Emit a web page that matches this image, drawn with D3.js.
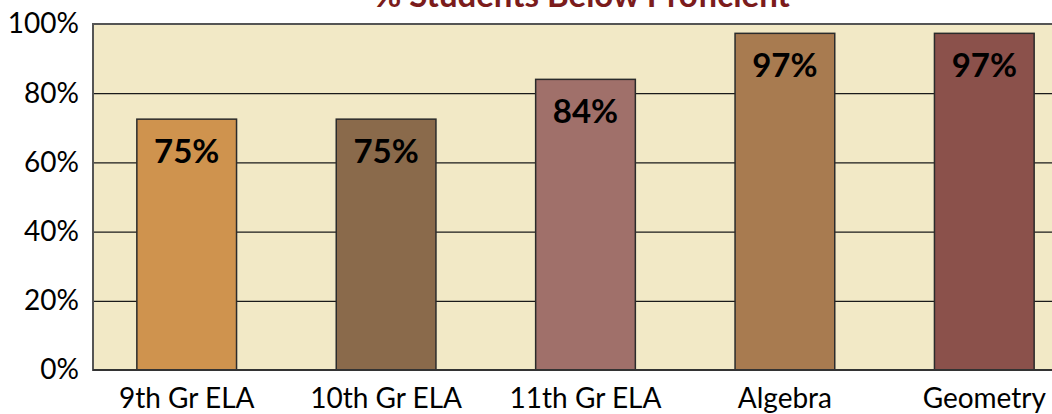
<!DOCTYPE html>
<html>
<head>
<meta charset="utf-8">
<script src="https://cdnjs.cloudflare.com/ajax/libs/d3/7.8.5/d3.min.js"></script>
<style>
  body { margin: 0; background: #fff; }
  svg { display: block; }
</style>
</head>
<body>
<div id="chart"></div>
<script>
const categories = ["9th Gr ELA", "10th Gr ELA", "11th Gr ELA", "Algebra", "Geometry"];
const values = [72.5, 72.5, 84, 97.3, 97.3];
const dataLabels = ["75%", "75%", "84%", "97%", "97%"];
const barColors = ["#CF934E", "#8A6A4B", "#A0706A", "#A87B50", "#8B514B"];
const yTicks = [0, 20, 40, 60, 80, 100];
const chartTitle = "% Students Below Proficient";

const W = 1052, H = 414;
const PLOT = { LEFT: 93, TOP: 24, BOTTOM: 370, RIGHT: 1093 };
const FONT = "Lato, 'Open Sans', sans-serif";

const svg = d3.select("#chart").append("svg")
    .attr("width", W)
    .attr("height", H);

const x = d3.scaleBand()
    .domain(categories)
    .range([87, 1084])
    .paddingInner(0.5)
    .paddingOuter(0.25);

const y = d3.scaleLinear()
    .domain([0, 100])
    .range([PLOT.BOTTOM, PLOT.TOP]);

// plot background
svg.append("rect")
    .attr("x", PLOT.LEFT)
    .attr("y", PLOT.TOP)
    .attr("width", PLOT.RIGHT - PLOT.LEFT)
    .attr("height", PLOT.BOTTOM - PLOT.TOP)
    .attr("fill", "#F2E9C6");

// gridlines
svg.append("g")
    .attr("transform", `translate(${PLOT.LEFT},0)`)
    .call(d3.axisLeft(y).tickValues(yTicks.filter(t => t > 0 && t < 100))
        .tickSize(-(PLOT.RIGHT - PLOT.LEFT)).tickFormat(""))
    .call(g => g.select(".domain").remove())
    .call(g => g.selectAll("line").attr("stroke", "#1a1a1a").attr("stroke-width", 1.3));

// bars
svg.selectAll("rect.bar")
    .data(values)
    .enter().append("rect")
    .attr("class", "bar")
    .attr("x", (d, i) => x(categories[i]))
    .attr("y", d => y(d))
    .attr("width", x.bandwidth())
    .attr("height", d => y(0) - y(d))
    .attr("fill", (d, i) => barColors[i])
    .attr("stroke", "#2b2b2b")
    .attr("stroke-width", 1.5);

// plot border
svg.append("rect")
    .attr("x", PLOT.LEFT)
    .attr("y", PLOT.TOP)
    .attr("width", PLOT.RIGHT - PLOT.LEFT)
    .attr("height", PLOT.BOTTOM - PLOT.TOP)
    .attr("fill", "none")
    .attr("stroke", "#555")
    .attr("stroke-width", 2);

svg.append("line")
    .attr("x1", PLOT.LEFT).attr("x2", PLOT.RIGHT)
    .attr("y1", y(0)).attr("y2", y(0))
    .attr("stroke", "#333").attr("stroke-width", 2);

// y tick labels
svg.append("g")
    .attr("transform", `translate(${PLOT.LEFT},0)`)
    .call(d3.axisLeft(y).tickValues(yTicks).tickSize(0).tickPadding(14).tickFormat(d => d + "%"))
    .call(g => g.select(".domain").remove())
    .selectAll("text")
    .attr("font-family", FONT)
    .attr("font-size", "28px")
    .attr("fill", "#000");

// x category labels
svg.append("g")
    .attr("transform", `translate(0,${PLOT.BOTTOM})`)
    .call(d3.axisBottom(x).tickSize(0).tickPadding(18))
    .call(g => g.select(".domain").remove())
    .selectAll("text")
    .attr("font-family", FONT)
    .attr("font-size", "28px")
    .attr("fill", "#000");

// data labels
svg.selectAll("text.label")
    .data(values)
    .enter().append("text")
    .attr("class", "label")
    .attr("x", (d, i) => x(categories[i]) + x.bandwidth() / 2)
    .attr("y", d => y(d) + 32)
    .attr("dy", "0.35em")
    .attr("text-anchor", "middle")
    .attr("font-family", FONT)
    .attr("font-weight", "bold")
    .attr("font-size", "33px")
    .attr("fill", "#000")
    .text((d, i) => dataLabels[i]);

// title (clipped by the top edge as in the original)
svg.append("text")
    .attr("x", 582)
    .attr("y", 7)
    .attr("text-anchor", "middle")
    .attr("font-family", FONT)
    .attr("font-weight", "bold")
    .attr("font-size", "33px")
    .attr("fill", "#7B1C1C")
    .text(chartTitle);
</script>
</body>
</html>
